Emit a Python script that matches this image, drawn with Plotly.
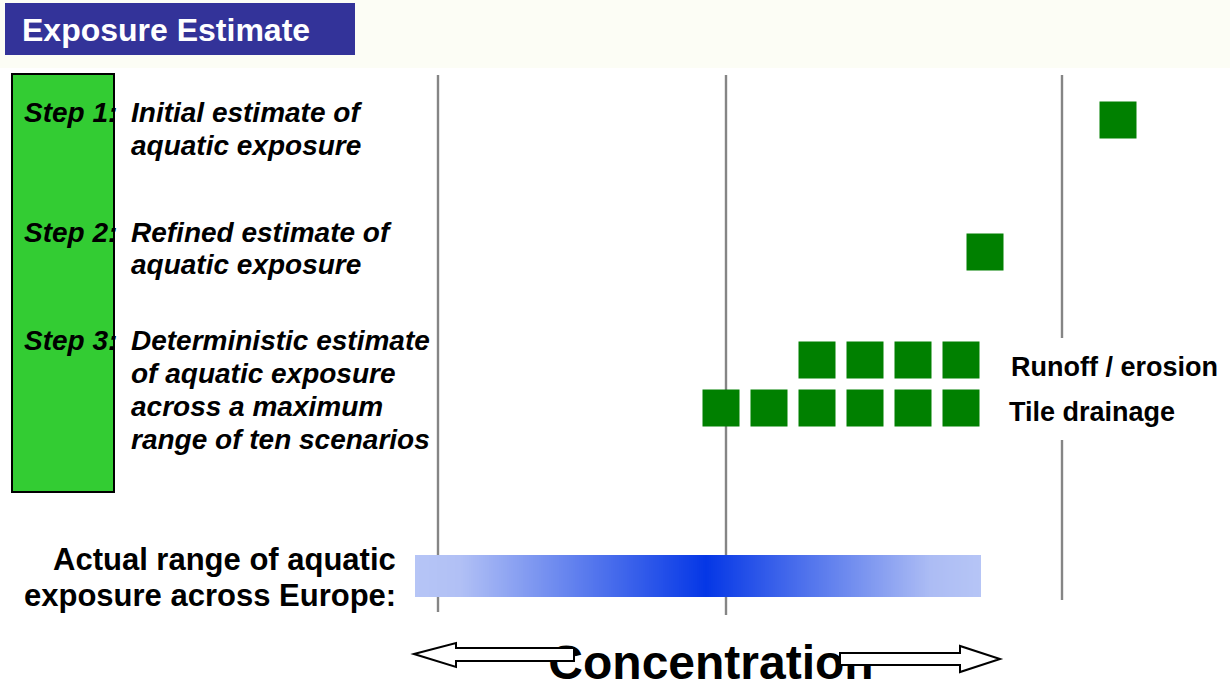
import numpy as np
import plotly.graph_objects as go

# ---- chart data (concentration axis expressed in layout units) ----
step_rows = {"Step 1": 120, "Step 2": 252, "Runoff / erosion": 360, "Tile drainage": 408}
step1_x = [1118]
step2_x = [985]
runoff_x = [817, 865, 913, 961]
tile_x = [721, 769, 817, 865, 913, 961]

grid_x = [438, 726, 1062]
grid_segments = [
    [(75, 555), (597, 612)],
    [(75, 555), (597, 615)],
    [(75, 338), (440, 600)],
]

range_lo, range_peak, range_hi = 415, 706, 981
range_top, range_bottom = 555, 597

FONT = "Liberation Sans, Arial, sans-serif"
GREEN = "#008000"

fig = go.Figure()

# concentration reference lines
for gx, segs in zip(grid_x, grid_segments):
    xs, ys = [], []
    for a, b in segs:
        xs += [gx, gx, None]
        ys += [a, b, None]
    fig.add_trace(go.Scatter(x=xs, y=ys, mode="lines",
                             line=dict(color="#858585", width=2.4),
                             hoverinfo="skip", showlegend=False))

# actual range of exposure: gradient bar, darkest at the peak
edges = np.linspace(range_lo, range_hi, 284)
mids = (edges[:-1] + edges[1:]) / 2
peak_frac = (range_peak - range_lo) / (range_hi - range_lo)
colorscale = [
    [0.0, "rgb(182,197,246)"],
    [0.08, "rgb(177,192,245)"],
    [peak_frac, "rgb(5,55,230)"],
    [0.91, "rgb(172,188,244)"],
    [1.0, "rgb(182,197,246)"],
]
fig.add_trace(go.Heatmap(x=edges, y=[range_top, range_bottom], z=[mids],
                         zmin=range_lo, zmax=range_hi, colorscale=colorscale,
                         showscale=False, hoverinfo="skip"))

# scenario results per tier
sq = dict(symbol="square", size=37, color=GREEN, line=dict(width=0))
for xs, row in [(step1_x, "Step 1"), (step2_x, "Step 2"),
                (runoff_x, "Runoff / erosion"), (tile_x, "Tile drainage")]:
    fig.add_trace(go.Scatter(x=xs, y=[step_rows[row]] * len(xs), mode="markers",
                             marker=sq, hoverinfo="skip", showlegend=False))

# axis caption, drawn under the arrows
fig.add_trace(go.Scatter(x=[711], y=[667], mode="text", text=["<b>Concentration</b>"],
                         textfont=dict(family=FONT, size=48, color="black"),
                         hoverinfo="skip", showlegend=False))

shapes = [
    dict(type="rect", xref="x", yref="y", x0=0, x1=1230, y0=0, y1=68,
         fillcolor="#fcfdf5", line=dict(width=0), layer="below"),
    dict(type="rect", xref="x", yref="y", x0=5, x1=355, y0=3, y1=55,
         fillcolor="#333399", line=dict(width=0), layer="below"),
    dict(type="rect", xref="x", yref="y", x0=12, x1=114, y0=74, y1=492,
         fillcolor="#33cc33", line=dict(color="black", width=2), layer="below"),
    dict(type="path", xref="x", yref="y",
         path="M 414,654 L 456,643 L 456,648 L 574,648 L 574,661 L 456,661 L 456,667 Z",
         fillcolor="white", line=dict(color="black", width=2), layer="above"),
    dict(type="path", xref="x", yref="y",
         path="M 840,653 L 960,653 L 960,646 L 1000,659 L 960,672 L 960,665 L 840,665 Z",
         fillcolor="white", line=dict(color="black", width=2), layer="above"),
]

ann = []


def label(text, x, baseline, size, anchor="left", color="black", italic=True):
    t = f"<b><i>{text}</i></b>" if italic else f"<b>{text}</b>"
    ann.append(dict(x=x, y=baseline - 0.33 * size, xref="x", yref="y", text=t,
                    showarrow=False, xanchor=anchor, yanchor="middle",
                    font=dict(family=FONT, size=size, color=color)))


label("Exposure Estimate", 20, 41, 32, color="white", italic=False)

label("Step 1:", 22, 122, 28)
label("Initial estimate of", 129, 122, 28)
label("aquatic exposure", 129, 155, 28)

label("Step 2:", 22, 242, 28)
label("Refined estimate of", 129, 242, 28)
label("aquatic exposure", 129, 274, 28)

label("Step 3:", 22, 350, 28)
for txt, bl in [("Deterministic estimate", 350), ("of aquatic exposure", 383),
                ("across a maximum", 416), ("range of ten scenarios", 449)]:
    label(txt, 129, bl, 28)

label("Runoff / erosion", 1009, 376, 27, italic=False)
label("Tile drainage", 1007, 421, 27, italic=False)

label("Actual range of aquatic", 398, 570, 31, anchor="right", italic=False)
label("exposure across Europe:", 398, 606, 31, anchor="right", italic=False)

fig.update_layout(
    width=1230, height=692,
    margin=dict(l=0, r=0, t=0, b=0),
    paper_bgcolor="white", plot_bgcolor="white",
    xaxis=dict(range=[0, 1230], visible=False, fixedrange=True),
    yaxis=dict(range=[692, 0], visible=False, fixedrange=True),
    shapes=shapes, annotations=ann, showlegend=False,
)

fig.write_html("out.html")
